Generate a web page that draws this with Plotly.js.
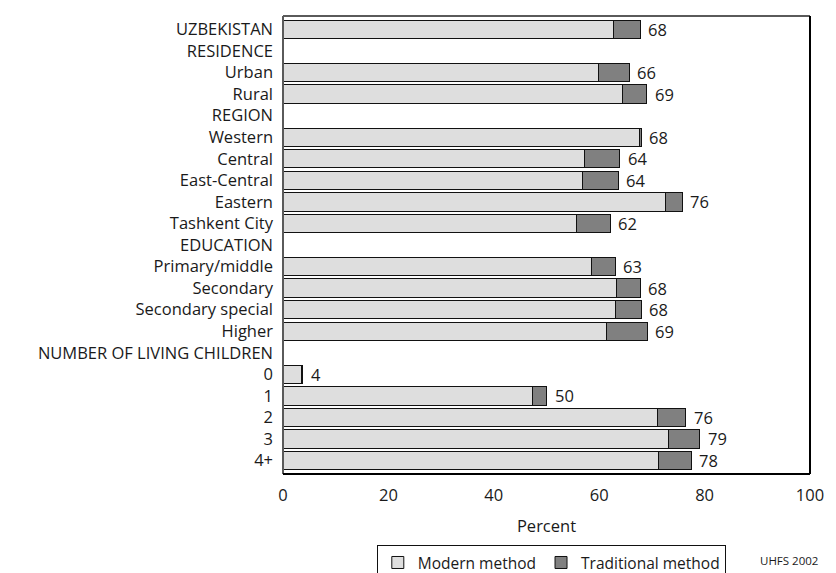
<!DOCTYPE html>
<html>
<head>
<meta charset="utf-8">
<script src="https://cdn.plot.ly/plotly-3.0.1.min.js"></script>
<style>html,body{margin:0;padding:0;background:#fff;}#chart{width:836px;height:573px;}</style>
</head>
<body>
<div id="chart"></div>
<script>
const categories = ["UZBEKISTAN","RESIDENCE","Urban","Rural","REGION","Western","Central","East-Central","Eastern","Tashkent City","EDUCATION","Primary/middle","Secondary","Secondary special","Higher","NUMBER OF LIVING CHILDREN","0","1","2","3","4+"];
const modern      = [62.8, null, 59.8, 64.5, null, 67.6, 57.2, 56.8, 72.6, 55.7, null, 58.6, 63.3, 63.1, 61.4, null, 3.6, 47.4, 71.0, 73.1, 71.2];
const traditional = [5.0,  null, 5.9,  4.5,  null, 0.4,  6.7,  6.8,  3.2,  6.4,  null, 4.4,  4.5,  4.9,  7.7,  null, 0.1, 2.6,  5.4,  6.0,  6.3];
const totalLabels = ["68", "", "66", "69", "", "68", "64", "64", "76", "62", "", "63", "68", "68", "69", "", "4", "50", "76", "79", "78"];
const xTicks = [0, 20, 40, 60, 80, 100];
const sourceNote = "UHFS 2002";

const FONT = "'Open Sans', 'Noto Sans', sans-serif";
const TXT = "#1a1a1a";
const FS = 16.5;

const traces = [
  {type: "bar", orientation: "h", name: "Modern method", y: categories, x: modern,
   marker: {color: "#dedede", line: {color: "#111", width: 1}}, hoverinfo: "x+y"},
  {type: "bar", orientation: "h", name: "Traditional method", y: categories, x: traditional,
   marker: {color: "#808080", line: {color: "#111", width: 1}}, hoverinfo: "x+y"}
];

const annotations = categories.map((c, i) => {
  if (!totalLabels[i]) return null;
  const tot = (modern[i] || 0) + (traditional[i] || 0);
  return {x: tot, y: i, xref: "x", yref: "y", text: totalLabels[i], showarrow: false,
          xanchor: "left", xshift: 6, font: {family: FONT, size: FS, color: TXT}};
}).filter(a => a);
annotations.push({xref: "paper", yref: "paper", x: 0.901, y: -0.168, xanchor: "left", yanchor: "top",
  text: sourceNote, showarrow: false, font: {family: FONT, size: 11.5, color: TXT}});

const layout = {
  width: 836, height: 573,
  margin: {l: 283, r: 26, t: 16, b: 99},
  paper_bgcolor: "#fff", plot_bgcolor: "#fff",
  barmode: "stack", bargap: 0.15,
  font: {family: FONT, size: FS, color: TXT},
  showlegend: true,
  legend: {orientation: "h", xref: "paper", yref: "container", x: 0.178, y: 0.049, xanchor: "left", yanchor: "top",
           bordercolor: "#111", borderwidth: 1, font: {family: FONT, size: 15.5, color: TXT},
           traceorder: "normal", itemwidth: 30, tracegroupgap: 0},
  xaxis: {range: [0, 100], tickvals: xTicks, ticktext: xTicks.map(String), showgrid: false, zeroline: false,
          showline: false, ticks: "", ticklabelstandoff: 9, tickfont: {size: FS},
          title: {text: "Percent", standoff: 15, font: {size: FS}}, automargin: false, fixedrange: true},
  yaxis: {type: "category", categoryorder: "array", categoryarray: categories, autorange: "reversed",
          showgrid: false, zeroline: false, showline: false, ticks: "", ticklabelstandoff: 9,
          tickfont: {size: FS}, automargin: false, fixedrange: true},
  shapes: [
    {type: "line", xref: "paper", yref: "paper", x0: 0, x1: 1, y0: 1, y1: 1, line: {color: "#5a5a5a", width: 2}},
    {type: "line", xref: "paper", yref: "paper", x0: 0, x1: 0, y0: 0, y1: 1, line: {color: "#5a5a5a", width: 2}},
    {type: "line", xref: "paper", yref: "paper", x0: 1, x1: 1, y0: 0, y1: 1, line: {color: "#000", width: 2}},
    {type: "line", xref: "paper", yref: "paper", x0: 0, x1: 1, y0: 0, y1: 0, line: {color: "#000", width: 2}}
  ],
  annotations: annotations
};

Plotly.newPlot("chart", traces, layout, {displayModeBar: false, staticPlot: true});
</script>
</body>
</html>
